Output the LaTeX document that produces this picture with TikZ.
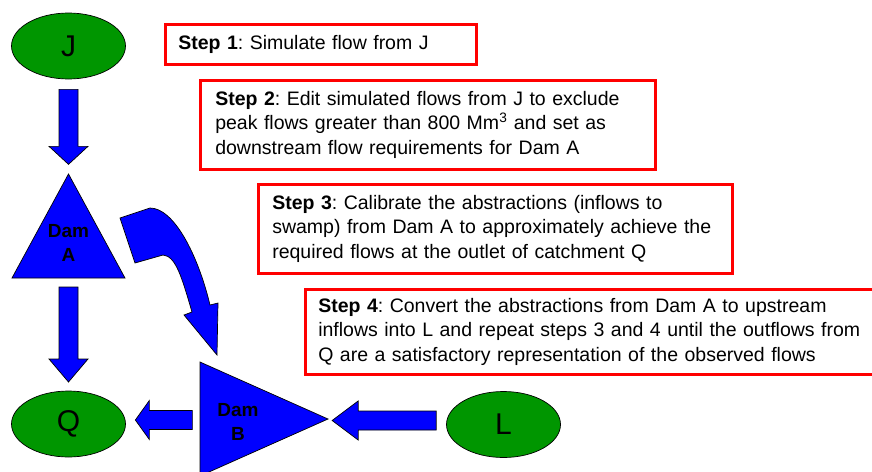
\documentclass[tikz,border=0pt]{standalone}
\usepackage{fontspec}
\setmainfont{Liberation Sans}
\usetikzlibrary{calc,shapes.geometric}

\definecolor{damblue}{RGB}{0,0,255}
\definecolor{sitegreen}{RGB}{0,150,0}
\definecolor{stepred}{RGB}{255,0,0}

% block arrow: tail point, direction, length, head length
\newcommand{\blockarrow}[4]{%
  \begin{scope}[shift={(#1)}, rotate=#2]
    \draw[flow] (0,-9.5) -- (#3-#4,-9.5) -- (#3-#4,-19.5) -- (#3,0)
      -- (#3-#4,19.5) -- (#3-#4,9.5) -- (0,9.5) -- cycle;
  \end{scope}}

\begin{document}
\begin{tikzpicture}[
  x=1pt, y=-1pt,
  flow/.style={draw=black, line width=0.7pt, fill=damblue, line join=miter},
  site/.style={ellipse, draw=black, line width=0.7pt, fill=sitegreen,
               minimum width=114pt, minimum height=66pt, inner sep=0pt,
               font=\fontsize{30}{30}\selectfont},
  damlabel/.style={align=center, inner sep=0pt,
                   font=\bfseries\fontsize{19}{24}\selectfont},
  stepbox/.style={draw=stepred, line width=2.6pt, anchor=north west,
                  align=left, inner ysep=0pt,
                  font=\frenchspacing\fontsize{19.5}{24.5}\selectfont}]
\useasboundingbox (0,0) rectangle (872,471);

% sites
\node[site] (J) at (68.5,46) {J};
\node[site] (Q) at (68.5,424) {Q};
\node[site] (L) at (503.5,424.5) {L};

% dams
\draw[flow] (68.5,174) -- (125,278) -- (12,278) -- cycle;
\node[damlabel] (damA) at (68.5,243) {Dam\\A};
\draw[flow] (200,362) -- (328,419) -- (200,476) -- cycle;
\node[damlabel] (damB) at (238,422) {Dam\\B};

% flows
\blockarrow{$(J.south)+(0,10)$}{-90}{75}{18}
\blockarrow{$(damA)+(0,44)$}{-90}{95}{23}
\blockarrow{$(Q.east)+(66.5,-4)$}{180}{57}{14}
\blockarrow{$(L.west)+(-10,-4)$}{180}{104}{26}
\draw[flow] (120,218) -- (150,208) .. controls (174,208) and (198,255) .. (210,305)
  -- (218,303) -- (217,355) -- (184,315) -- (192,312)
  .. controls (182,278) and (176,256) .. (163,255) -- (135,263) -- cycle;

% steps
\node[stepbox, minimum width=311pt, minimum height=40pt, inner xsep=13pt,
      text width=285pt] (step1) at (164,23)
  {\textbf{Step 1}: Simulate flow from J};
\node[stepbox, minimum width=455pt, minimum height=89pt, inner xsep=15pt,
      text width=425pt] (step2) at (199,79)
  {\textbf{Step 2}: Edit simulated flows from J to exclude\\
   peak flows greater than 800 Mm\textsuperscript{3} and set as\\
   downstream flow requirements for Dam A};
\node[stepbox, minimum width=474pt, minimum height=89pt, inner xsep=14pt,
      text width=446pt] (step3) at (257,183)
  {\textbf{Step 3}: Calibrate the abstractions (inflows to\\
   swamp) from Dam A to approximately achieve the\\
   required flows at the outlet of catchment Q};
\node[stepbox, minimum width=580pt, minimum height=85pt, inner xsep=13pt,
      text width=554pt] (step4) at (304,288)
  {\textbf{Step 4}: Convert the abstractions from Dam A to upstream\\
   inflows into L and repeat steps 3 and 4 until the outflows from\\
   Q are a satisfactory representation of the observed flows};
\end{tikzpicture}
\end{document}
